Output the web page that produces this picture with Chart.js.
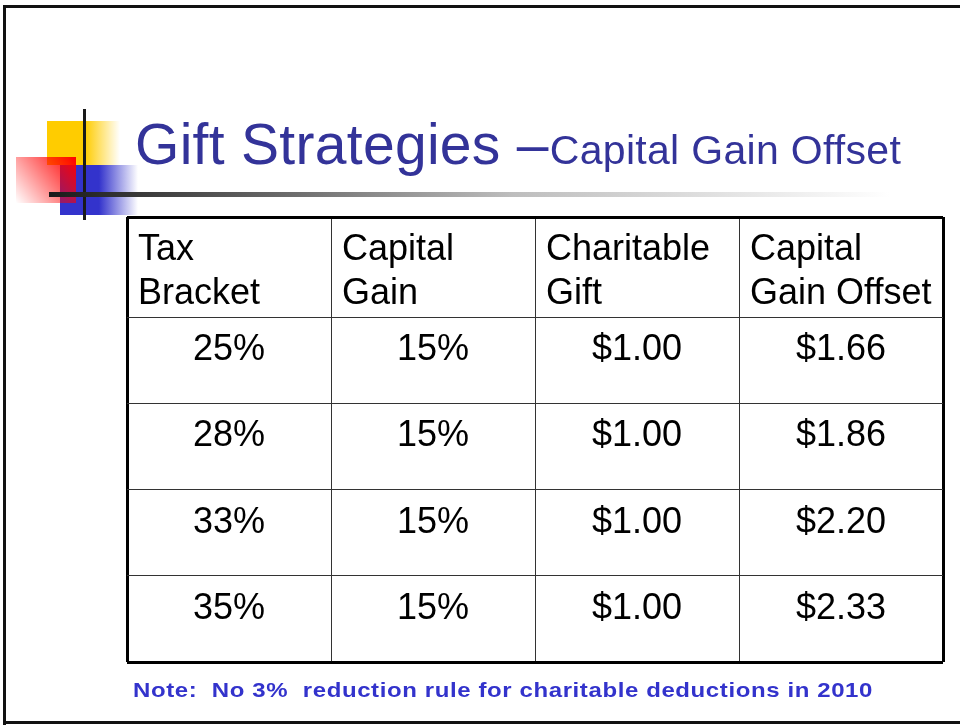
<!DOCTYPE html>
<html>
<head>
<meta charset="utf-8">
<script src="https://cdn.jsdelivr.net/npm/chart.js@4.4.1/dist/chart.umd.min.js"></script>
<style>
  html, body { margin:0; padding:0; background:#fff; }
  #slide { display:block; }
</style>
</head>
<body>
<canvas id="slide" width="960" height="725"></canvas>
<script>
// table data
const headers = [["Tax", "Bracket"], ["Capital", "Gain"], ["Charitable", "Gift"], ["Capital", "Gain Offset"]];
const taxBracket = [25, 28, 33, 35];
const capitalGainRate = [15, 15, 15, 15];
const charitableGift = [1.00, 1.00, 1.00, 1.00];
const capitalGainOffset = [1.66, 1.86, 2.20, 2.33];

const pct = v => v + "%";
const usd = v => "$" + v.toFixed(2);

// row boundaries in row units (header row is a bit taller)
const rowEdges = [0, 1.16, 2.16, 3.16, 4.16, 5.16];

const columns = [
  taxBracket.map(pct),
  capitalGainRate.map(pct),
  charitableGift.map(usd),
  capitalGainOffset.map(usd)
];

const headerPoints = headers.map((h, c) => ({ x: c, y: 0, text: h }));
const bodyPoints = [];
columns.forEach((col, c) => col.forEach((t, r) => bodyPoints.push({ x: c + 0.5, y: rowEdges[r + 1], text: t })));

const FONT = "'Liberation Sans', Arial, sans-serif";

// slide decoration: border, logo, title, rule, note
const slideDecor = {
  id: "slideDecor",
  beforeDraw(chart) {
    const ctx = chart.ctx;
    ctx.save();
    ctx.fillStyle = "#fff";
    ctx.fillRect(0, 0, chart.width, chart.height);

    // logo squares
    let g = ctx.createLinearGradient(47, 0, 120, 0);
    g.addColorStop(0, "#ffcc00"); g.addColorStop(0.52, "#ffcc00"); g.addColorStop(1, "rgba(255,204,0,0)");
    ctx.fillStyle = g; ctx.fillRect(47, 121, 73, 44);

    g = ctx.createLinearGradient(60, 0, 138, 0);
    g.addColorStop(0, "#3333cc"); g.addColorStop(0.5, "#3333cc"); g.addColorStop(1, "rgba(51,51,204,0)");
    ctx.fillStyle = g; ctx.fillRect(60, 165, 78, 50);

    g = ctx.createLinearGradient(16, 203, 76, 157);
    g.addColorStop(0, "rgba(255,0,0,0)"); g.addColorStop(1, "#ff0000");
    ctx.fillStyle = g; ctx.fillRect(16, 157, 60, 46);

    ctx.fillStyle = "#1a1a1a";
    ctx.fillRect(83, 109, 3, 111);

    g = ctx.createLinearGradient(49, 0, 890, 0);
    g.addColorStop(0, "#1a1a1a"); g.addColorStop(0.3, "#707070"); g.addColorStop(0.55, "#bdbdbd"); g.addColorStop(1, "#ffffff");
    ctx.fillStyle = g; ctx.fillRect(49, 192, 841, 5);

    // title
    ctx.fillStyle = "#333399";
    ctx.textBaseline = "alphabetic";
    ctx.textAlign = "left";
    ctx.font = "57px " + FONT;
    ctx.letterSpacing = "0.3px";
    const big = "Gift Strategies \u2013";
    ctx.fillText(big, 135, 164);
    const w = ctx.measureText(big).width;
    ctx.font = "41px " + FONT;
    ctx.fillText("Capital Gain Offset", 135 + w + 1, 164);

    // note (slightly squat bold face)
    ctx.fillStyle = "#3333cc";
    ctx.font = "bold 24px " + FONT;
    ctx.letterSpacing = "0.6px";
    ctx.save();
    ctx.translate(133, 697);
    ctx.scale(1, 0.88);
    ctx.fillText("Note:  No 3%  reduction rule for charitable deductions in 2010", 0, 0);
    ctx.restore();
    ctx.letterSpacing = "0px";

    // slide frame
    ctx.fillStyle = "#111";
    ctx.fillRect(3, 5, 957, 3);
    ctx.fillRect(3, 5, 3, 720);
    ctx.fillRect(3, 721, 957, 3);
    ctx.restore();
  },
  afterDatasetsDraw(chart) {
    const ctx = chart.ctx;
    ctx.save();
    ctx.fillStyle = "#000";
    ctx.font = "36px " + FONT;
    ctx.textBaseline = "alphabetic";

    ctx.textAlign = "left";
    chart.getDatasetMeta(0).data.forEach((pt, i) => {
      const lines = chart.data.datasets[0].data[i].text;
      lines.forEach((line, k) => ctx.fillText(line, pt.x + 11, pt.y + 43 + k * 44));
    });

    ctx.textAlign = "center";
    chart.getDatasetMeta(1).data.forEach((pt, i) => {
      ctx.fillText(chart.data.datasets[1].data[i].text, pt.x, pt.y + 43);
    });
    ctx.restore();
  }
};

const edgeWidth = v => (v === 0 || v === 4 || v === rowEdges[rowEdges.length - 1]) ? 3 : 1;
const edgeColor = v => (v === 0 || v === 4 || v === rowEdges[rowEdges.length - 1]) ? "#000" : "#333";

new Chart(document.getElementById("slide"), {
  type: "scatter",
  data: {
    datasets: [
      { label: "headers", data: headerPoints, pointRadius: 0 },
      { label: "values", data: bodyPoints, pointRadius: 0 }
    ]
  },
  options: {
    responsive: false,
    animation: false,
    layout: { padding: { left: 127, right: 17, top: 217, bottom: 63 } },
    plugins: { legend: { display: false }, tooltip: { enabled: false } },
    scales: {
      x: {
        type: "linear", min: 0, max: 4,
        ticks: { display: false, stepSize: 1 },
        grid: { drawTicks: false, lineWidth: c => edgeWidth(c.tick.value), color: c => edgeColor(c.tick.value) },
        border: { display: false }
      },
      y: {
        type: "linear", reverse: true, min: 0, max: rowEdges[rowEdges.length - 1],
        afterBuildTicks: s => { s.ticks = rowEdges.map(v => ({ value: v })); },
        ticks: { display: false },
        grid: { drawTicks: false, lineWidth: c => edgeWidth(c.tick.value), color: c => edgeColor(c.tick.value) },
        border: { display: false }
      }
    }
  },
  plugins: [slideDecor]
});
</script>
</body>
</html>
